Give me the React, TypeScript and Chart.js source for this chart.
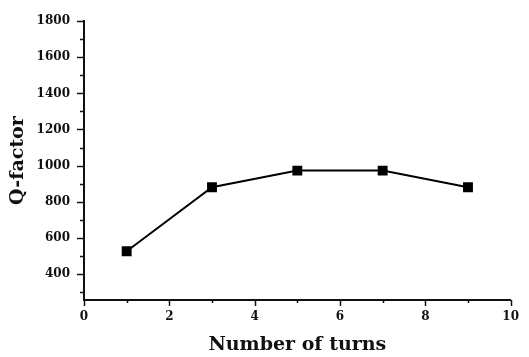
import React, { useEffect, useRef } from "react";
import { Chart, registerables } from "chart.js";

Chart.register(...registerables);

const turns = [1, 3, 5, 7, 9];
const qFactor = [525, 880, 972, 972, 880];
const xMajorTicks = [0, 2, 4, 6, 8, 10];
const xMinorTicks = [1, 3, 5, 7, 9];
const yMajorTicks = [400, 600, 800, 1000, 1200, 1400, 1600, 1800];
const yMinorTicks = [300, 500, 700, 900, 1100, 1300, 1500, 1700];

const FONT_FAMILY = "'DejaVu Serif', 'Liberation Serif', serif";
const INK = "#111";

const tickMarksPlugin = {
  id: "tickMarks",
  afterDraw(chart: any) {
    const { ctx, chartArea, scales } = chart;
    const xs = scales.x;
    const ys = scales.y;
    ctx.save();
    ctx.strokeStyle = INK;
    ctx.lineWidth = 1.5;
    ctx.beginPath();
    const drawY = (vals: number[], len: number) => {
      vals.forEach((v) => {
        const y = Math.round(ys.getPixelForValue(v)) + 0.5;
        ctx.moveTo(chartArea.left - len, y);
        ctx.lineTo(chartArea.left, y);
      });
    };
    const drawX = (vals: number[], len: number) => {
      vals.forEach((v) => {
        const x = Math.round(xs.getPixelForValue(v)) + 0.5;
        ctx.moveTo(x, chartArea.bottom);
        ctx.lineTo(x, chartArea.bottom + len);
      });
    };
    drawY(yMajorTicks, 7);
    drawY(yMinorTicks, 4);
    drawX(xMajorTicks, 6);
    drawX(xMinorTicks, 3);
    ctx.stroke();
    ctx.restore();
  },
};

export default function App() {
  const canvasRef = useRef<HTMLCanvasElement | null>(null);

  useEffect(() => {
    if (!canvasRef.current) return;
    const chart = new Chart(canvasRef.current, {
      type: "line",
      data: {
        datasets: [
          {
            data: turns.map((t, i) => ({ x: t, y: qFactor[i] })),
            borderColor: "#000",
            backgroundColor: "#000",
            borderWidth: 2,
            pointStyle: "rect",
            pointRadius: 7,
            pointBackgroundColor: "#000",
            pointBorderColor: "#000",
            pointBorderWidth: 0,
            tension: 0,
          },
        ],
      },
      options: {
        animation: false,
        responsive: false,
        events: [],
        layout: { padding: { left: 0, top: 15, right: 17, bottom: 0 } },
        plugins: { legend: { display: false }, tooltip: { enabled: false } },
        scales: {
          x: {
            type: "linear",
            position: "bottom",
            min: 0,
            max: 10,
            afterBuildTicks: (scale: any) => {
              scale.ticks = xMajorTicks.map((v) => ({ value: v }));
            },
            afterFit: (scale: any) => {
              scale.height = 57;
            },
            grid: { display: false, drawTicks: false },
            border: { display: true, color: INK, width: 2 },
            ticks: {
              autoSkip: false,
              maxRotation: 0,
              padding: 10,
              color: INK,
              font: { family: FONT_FAMILY, size: 12, weight: "bold" },
              callback: (v: any) => String(v),
            },
            title: {
              display: true,
              text: "Number of turns",
              color: INK,
              font: { family: FONT_FAMILY, size: 19, weight: "bold" },
              padding: { top: 0, bottom: 1 },
            },
          },
          y: {
            type: "linear",
            position: "left",
            min: 255,
            max: 1800,
            afterBuildTicks: (scale: any) => {
              scale.ticks = yMajorTicks.map((v) => ({ value: v }));
            },
            afterFit: (scale: any) => {
              scale.width = 84;
            },
            grid: { display: false, drawTicks: false },
            border: { display: true, color: INK, width: 2 },
            ticks: {
              autoSkip: false,
              padding: 14,
              color: INK,
              font: { family: FONT_FAMILY, size: 12, weight: "bold" },
              callback: (v: any) => String(v),
            },
            title: {
              display: true,
              text: "Q-factor",
              color: INK,
              font: { family: FONT_FAMILY, size: 19, weight: "bold" },
              padding: { top: 7, bottom: 0 },
            },
          },
        },
      },
      plugins: [tickMarksPlugin],
    });
    return () => chart.destroy();
  }, []);

  return (
    <div style={{ position: "absolute", left: 0, top: 0, width: 529, height: 357, background: "#fff" }}>
      <canvas ref={canvasRef} width={529} height={357} style={{ display: "block" }} />
    </div>
  );
}
